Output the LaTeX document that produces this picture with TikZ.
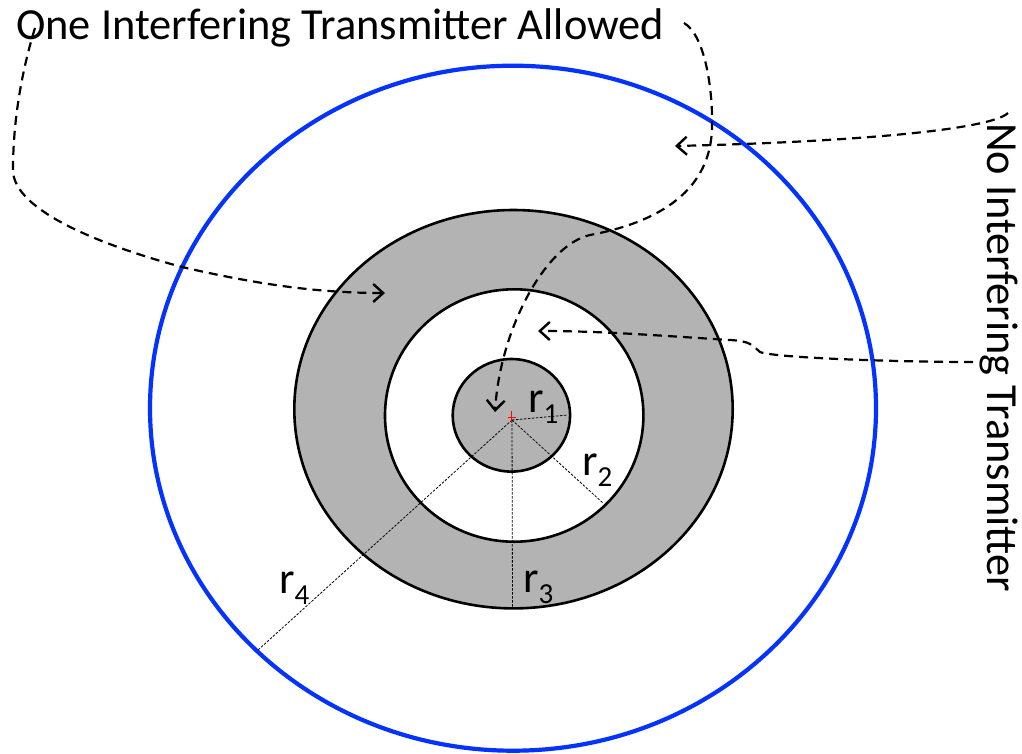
\documentclass[tikz,border=0pt]{standalone}
\usepackage{fontspec}
\setmainfont{Carlito}
\usepackage{tikz}
\usetikzlibrary{arrows.meta}
\definecolor{ringgray}{HTML}{B3B3B3}
\definecolor{rimblue}{HTML}{0433FF}
% radius label with a lowered index
\newcommand\radlbl[1]{r\raisebox{-0.25em}{\fontsize{29}{30}\selectfont #1}}

\begin{document}
\begin{tikzpicture}[x=1pt,y=-1pt,
  lbl/.style={font=\fontsize{44.4}{52}\selectfont, inner sep=0pt, anchor=base west},
  flow/.style={line width=2.2pt, dash pattern=on 9pt off 6pt,
    -{Straight Barb[length=10pt,width=18pt,line width=2.4pt]}},
  rad/.style={line width=0.8pt, dash pattern=on 2.5pt off 1.5pt},
  rim/.style={line width=2.6pt}]
  \useasboundingbox (0,0) rectangle (1022,753);
  % zones
  \fill[ringgray] (513.5,409.2) ellipse [x radius=219.2pt, y radius=199.2pt];
  \fill[white] (514.2,415.5) ellipse [x radius=129.2pt, y radius=126.2pt];
  \fill[ringgray] (511.4,415.3) ellipse [x radius=58.7pt, y radius=56.3pt];
  \draw[rim] (513.5,409.2) ellipse [x radius=219.2pt, y radius=199.2pt];
  \draw[rim] (514.2,415.5) ellipse [x radius=129.2pt, y radius=126.2pt];
  \draw[rim] (511.4,415.3) ellipse [x radius=58.7pt, y radius=56.3pt];
  \draw[rimblue, line width=4.2pt] (513,408.2) ellipse [x radius=363pt, y radius=342.5pt];
  % radii
  \coordinate (tx) at (512,420);
  \coordinate (e1) at (568,415);
  \coordinate (e2) at (603.3,503.3);
  \coordinate (e3) at (512.5,608.3);
  \coordinate (e4) at (258,650);
  \foreach \e in {e1,e2,e3,e4}
    \draw[rad] (tx) -- (\e);
  \draw[red, line width=1.3pt] (511.7,410.5) -- (511.7,422.5) (507.5,417.3) -- (516,417.3);
  \node[lbl] (l1) at (528,412) {\radlbl{1}};
  \node[lbl] (l2) at (582,475) {\radlbl{2}};
  \node[lbl] (l3) at (523,592) {\radlbl{3}};
  \node[lbl] (l4) at (279,593) {\radlbl{4}};
  % captions
  \node[lbl] (allowed) at (16,39) {One Interfering Transmitter Allowed};
  \node[lbl, rotate=-90] (noint) at (987,123) {No Interfering Transmitter};
  \coordinate (a1) at (35,28);
  \coordinate (a2) at (684,23);
  \coordinate (n1) at (1008,113);
  \coordinate (n2) at (973,362);
  \coordinate (ring) at (385,293);
  \coordinate (core) at (495,412);
  \coordinate (outer) at (675,146);
  \coordinate (gap) at (538,331);
  % pointers
  \draw[flow] (a1) .. controls (22,70) and (13,120) .. (13,170)
    .. controls (13,210) and (100,245) .. (182,267)
    .. controls (260,285) and (320,293) .. (ring);
  \draw[flow] (a2) .. controls (705,35) and (713,90) .. (712,127)
    .. controls (711,190) and (660,222) .. (590,235)
    .. controls (545,245) and (500,330) .. (core);
  \draw[flow] (n1) .. controls (990,130) and (850,142) .. (outer);
  \draw[flow] (n2) .. controls (900,362) and (775,358) .. (760,352)
    .. controls (752,345) and (750,341) .. (730,340)
    .. controls (650,335) and (600,331) .. (gap);
\end{tikzpicture}
\end{document}
